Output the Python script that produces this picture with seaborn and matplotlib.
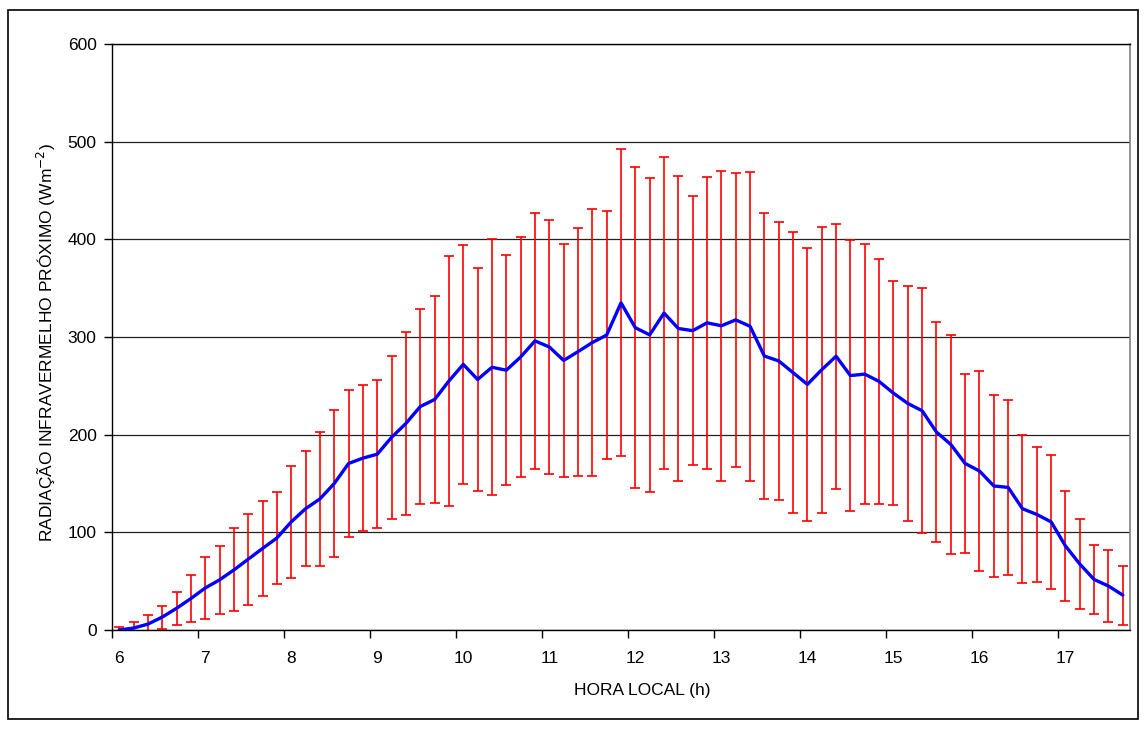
import numpy as np
import pandas as pd
import matplotlib
matplotlib.use("Agg")
import matplotlib.pyplot as plt
import seaborn as sns
from matplotlib.patches import Rectangle

# Media a cada 10 min (06:00 ate 17:40) e desvio padrao (barras de erro)
media = [0.0, 2.0, 6.0, 13.2, 22.2, 32.2, 43.0, 51.3, 61.5, 72.5,
         83.5, 94.2, 110.7, 124.2, 134.2, 150.0, 170.5, 176.0, 180.0, 197.3,
         211.5, 228.8, 236.0, 255.0, 272.0, 256.5, 269.0, 266.0, 279.5, 296.0,
         289.8, 276.0, 285.0, 294.3, 302.0, 335.0, 309.5, 302.2, 324.5, 308.7,
         306.5, 314.5, 311.5, 317.5, 311.0, 280.5, 275.5, 263.5, 251.5, 266.5,
         280.3, 260.5, 262.0, 254.5, 242.5, 232.0, 224.5, 202.7, 190.0, 170.5,
         162.8, 147.5, 146.0, 124.2, 118.3, 110.7, 86.0, 67.5, 51.7, 45.0,
         35.7]
desvio = [3.5, 6.5, 9.0, 11.7, 17.2, 23.7, 32.0, 34.7, 42.5, 46.5,
          48.5, 47.5, 57.7, 58.7, 68.7, 75.5, 75.5, 75.0, 76.0, 83.7,
          93.5, 100.2, 106.0, 128.0, 122.7, 114.5, 131.0, 118.0, 122.5, 131.0,
          130.2, 119.0, 127.0, 136.7, 127.0, 157.0, 164.5, 160.8, 159.5, 156.3,
          137.5, 149.5, 158.5, 150.5, 158.0, 146.5, 142.5, 143.5, 139.5, 146.5,
          135.7, 138.5, 133.0, 125.5, 115.0, 120.0, 125.5, 112.7, 112.0, 91.5,
          102.0, 93.0, 89.5, 75.8, 69.3, 68.7, 56.5, 46.5, 35.3, 37.0,
          30.3]
rotulos_hora = ["6", "7", "8", "9", "10", "11", "12", "13", "14", "15", "16", "17"]
valores_y = [0, 100, 200, 300, 400, 500, 600]

passos_por_hora = 6  # intervalos de 10 minutos

df = pd.DataFrame({"pos": np.arange(len(media)), "media": media, "desvio": desvio})

sns.set_style("white")
plt.rcParams["font.family"] = ["Liberation Sans", "DejaVu Sans"]
plt.rcParams["font.size"] = 12
plt.rcParams["text.color"] = "black"
plt.rcParams["axes.labelcolor"] = "black"
plt.rcParams["xtick.color"] = "black"
plt.rcParams["ytick.color"] = "black"

fig = plt.figure(figsize=(11.47, 7.31), dpi=100)
ax = fig.add_axes([112 / 1147, 1 - 630 / 731, (1130 - 112) / 1147, (630 - 44) / 731])

# moldura externa do grafico (estilo Excel)
fig.patches.append(Rectangle((8 / 1147, 1 - 719 / 731), (1138 - 8) / 1147, (719 - 10) / 731,
                             transform=fig.transFigure, fill=False, edgecolor="black",
                             linewidth=1.2))

ax.errorbar(df["pos"], df["media"], yerr=df["desvio"], fmt="none", ecolor="#FF0000",
            elinewidth=1.2, capsize=3.5, capthick=1.2, zorder=2)
sns.lineplot(data=df, x="pos", y="media", color="#0000FF", linewidth=2.4, ax=ax, zorder=3)

ax.set_ylim(0, 600)
ax.set_xlim(-0.5, len(media) - 0.5)
ax.set_yticks(valores_y)
ax.yaxis.grid(True, color="#222222", linewidth=0.9)
ax.set_axisbelow(True)

# ticks nos limites das categorias, rotulos no centro (eixo de categorias)
limites = [i * passos_por_hora - 0.5 for i in range(len(rotulos_hora))]
centros = [i * passos_por_hora for i in range(len(rotulos_hora))]
ax.set_xticks(limites)
ax.set_xticklabels([])
ax.set_xticks(centros, rotulos_hora, minor=True)
ax.tick_params(axis="x", which="major", direction="out", length=6, width=1, color="black")
ax.tick_params(axis="x", which="minor", length=0, pad=15, labelsize=12.5)
ax.tick_params(axis="y", direction="out", length=6, width=1, color="black", pad=5, labelsize=12.5)
ax.tick_params(left=True, bottom=True)

for lado in ["left", "bottom", "top"]:
    ax.spines[lado].set_color("black")
    ax.spines[lado].set_linewidth(1)
ax.spines["right"].set_color("#808080")
ax.spines["right"].set_linewidth(1.2)

ax.set_xlabel("HORA LOCAL (h)", fontsize=12.5)
ax.xaxis.set_label_coords((642 - 112) / 1018, -0.090)
ax.set_ylabel("RADIAÇÃO INFRAVERMELHO PRÓXIMO (Wm$^{-2}$)", fontsize=12.5)
ax.yaxis.set_label_coords(-0.053, 0.49)

fig.savefig("out.png", dpi=100)
